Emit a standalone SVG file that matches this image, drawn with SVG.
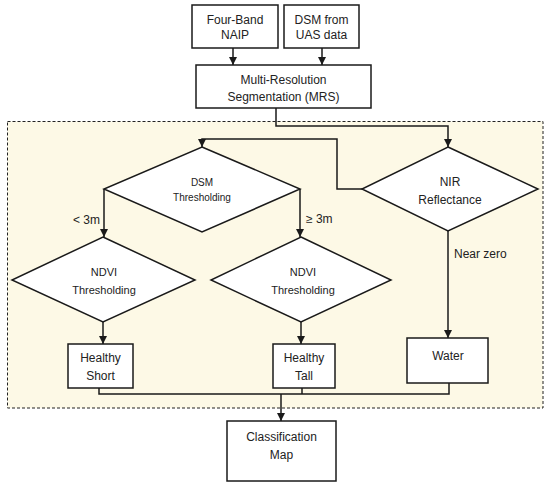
<svg xmlns="http://www.w3.org/2000/svg" width="550" height="488" viewBox="0 0 550 488">
<style>
.box{fill:#fff;stroke:#1a1a1a;stroke-width:1.5}
.t{font-family:"Liberation Sans",Arial,sans-serif;font-size:12px;fill:#222;text-anchor:middle}
.c{fill:none;stroke:#1a1a1a;stroke-width:1.5}
</style>
<defs>
<marker id="ah" markerUnits="userSpaceOnUse" markerWidth="10" markerHeight="10" refX="8" refY="4" orient="auto">
<path d="M0,0 L8,4 L0,8 Z" fill="#1a1a1a"/>
</marker>
</defs>
<rect id="region" x="7.5" y="121.5" width="535.5" height="286.5" fill="#FDF9E6" stroke="#222" stroke-width="1" stroke-dasharray="3,2"/>
<g id="naip"><rect class="box" x="192" y="5" width="86" height="43"/><text class="t" x="235" y="24">Four-Band</text><text class="t" x="235" y="39">NAIP</text></g>
<g id="dsm"><rect class="box" x="284" y="5" width="75" height="43"/><text class="t" x="321.5" y="24">DSM from</text><text class="t" x="321.5" y="39">UAS data</text></g>
<g id="mrs"><rect class="box" x="196" y="65" width="175" height="43"/><text class="t" x="283.5" y="84">Multi-Resolution</text><text class="t" x="283.5" y="101">Segmentation (MRS)</text></g>
<g id="dsmth"><polygon class="box" points="202,147 300,189 202,232 104,189"/><text class="t" x="202" y="186" style="font-size:10px">DSM</text><text class="t" x="202" y="201" style="font-size:10px">Thresholding</text></g>
<g id="nir"><polygon class="box" points="448,147 538,189 448,231 362,189"/><text class="t" x="450" y="186">NIR</text><text class="t" x="450" y="204">Reflectance</text></g>
<g id="ndvi1"><polygon class="box" points="103,237 195,280 103,322 12,280"/><text class="t" x="104" y="276" style="font-size:11px">NDVI</text><text class="t" x="104" y="294" style="font-size:11px">Thresholding</text></g>
<g id="ndvi2"><polygon class="box" points="301,237 391,280 301,322 211,280"/><text class="t" x="303" y="276" style="font-size:11px">NDVI</text><text class="t" x="303" y="294" style="font-size:11px">Thresholding</text></g>
<g id="hshort"><rect class="box" x="68" y="344" width="65" height="44"/><text class="t" x="100.5" y="362">Healthy</text><text class="t" x="100.5" y="380">Short</text></g>
<g id="htall"><rect class="box" x="273" y="344" width="62" height="44"/><text class="t" x="304" y="362">Healthy</text><text class="t" x="304" y="380">Tall</text></g>
<g id="water"><rect class="box" x="407" y="338" width="81" height="45"/><text class="t" x="448" y="360">Water</text></g>
<g id="classmap"><rect class="box" x="227" y="421" width="109" height="60"/><text class="t" x="281.5" y="441">Classification</text><text class="t" x="281.5" y="459">Map</text></g>
<g id="connectors">
<path class="c" d="M233,48 V65" marker-end="url(#ah)"/>
<path class="c" d="M322,48 V65" marker-end="url(#ah)"/>
<path class="c" d="M276,108 V126 H448 V147" marker-end="url(#ah)"/>
<path class="c" d="M362,189 H337 V139 H202 V147" marker-end="url(#ah)"/>
<path class="c" d="M104,189 V237" marker-end="url(#ah)"/>
<path class="c" d="M300,189 V237" marker-end="url(#ah)"/>
<path class="c" d="M103,322 V344" marker-end="url(#ah)"/>
<path class="c" d="M301,322 V344" marker-end="url(#ah)"/>
<path class="c" d="M448,231 V338" marker-end="url(#ah)"/>
<path class="c" d="M99,388 V394 H449 V383"/>
<path class="c" d="M302,388 V394"/>
<path class="c" d="M281,394 V421" marker-end="url(#ah)"/>
<text class="t" x="100" y="224" style="text-anchor:end">&lt; 3m</text>
<text class="t" x="306" y="223" style="text-anchor:start">≥ 3m</text>
<text class="t" x="454" y="258" style="text-anchor:start">Near zero</text>
</g>
</svg>
